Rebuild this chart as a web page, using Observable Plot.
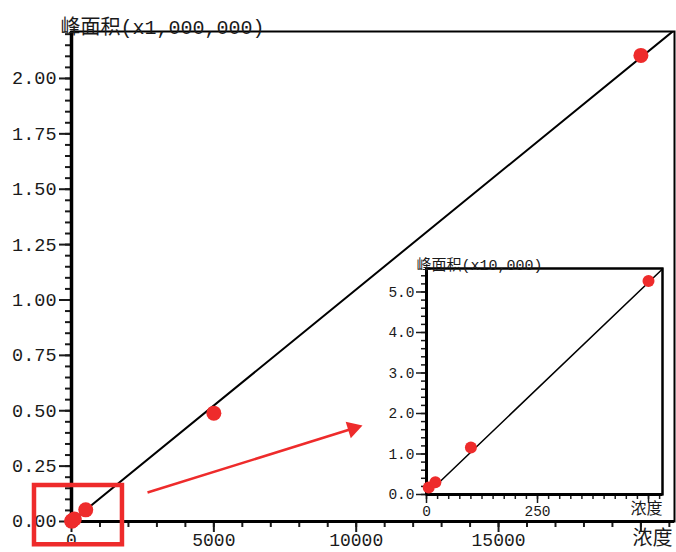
<!DOCTYPE html>
<html><head><meta charset="utf-8">
<script src="https://cdn.jsdelivr.net/npm/d3@7"></script>
<script src="https://cdn.jsdelivr.net/npm/@observablehq/plot@0.6"></script>
<style>
body{margin:0;background:#fff;}
#wrap{position:relative;width:676px;height:552px;overflow:hidden;background:#fff;}
#main{position:absolute;left:0;top:0;}
#inset{position:absolute;left:380px;top:245px;}
</style></head><body><div id="wrap"><div id="main"></div><div id="inset"></div></div>
<script>
// ---- data ----
const concentration = [5, 20, 100, 500, 5000, 20000];
const peakArea = [1700, 3000, 11600, 52700, 489000, 2104000];

// ---- tick labels ----
const mainXTicks = [0, 5000, 10000, 15000, 20000];
const mainXTickLabels = ["0", "5000", "10000", "15000", ""];
const mainYTicks = [0, 0.25, 0.5, 0.75, 1.0, 1.25, 1.5, 1.75, 2.0];
const mainYTickLabels = ["0.00", "0.25", "0.50", "0.75", "1.00", "1.25", "1.50", "1.75", "2.00"];
const insetXTicks = [0, 250, 500];
const insetXTickLabels = ["0", "250", ""];
const insetYTicks = [0, 1, 2, 3, 4, 5];
const insetYTickLabels = ["0.0", "1.0", "2.0", "3.0", "4.0", "5.0"];
const mainYLabel = ["峰面积(x1,000,000)"];
const insetYLabel = ["峰面积(x10,000)"];
const xLabel = ["浓度"];

// ---- annotations (data coordinates of main chart) ----
const zoomBox = [{x1: -1300, x2: 1790, y1: -0.105, y2: 0.1625}];
const pointer = [{x1: 2670, y1: 0.131, x2: 10222, y2: 0.433}];

// ---- layout ----
const MONO = "'Liberation Mono', 'Noto Sans CJK SC', monospace";
const CJK = "'Noto Sans CJK SC', sans-serif";
const RED = "#ee2b2b";
const W = 676, H = 552, ML = 71, MR = 2, MT = 31, MB = 31;
const mainXDomain = [0, 21180];
const mainYDomain = [0, 2.212];
const insetXDomain = [0, 531.5];
const insetYDomain = [0, 5.58];

// fit line through origin (least squares)
const fitSlope = d3.sum(concentration, (c, i) => c * peakArea[i]) / d3.sum(concentration, c => c * c);

const mainPts = concentration.map((c, i) => ({x: c, y: peakArea[i] / 1e6}));
const mainFit = mainXDomain.map(x => ({x, y: fitSlope * x / 1e6}));
const insetPts = concentration.map((c, i) => ({x: c, y: peakArea[i] / 1e4})).filter(d => d.x <= 500);
const insetFit = insetXDomain.map(x => ({x, y: fitSlope * x / 1e4}));

const mainXMinor = d3.range(0, 21001, 1000);
const mainYMinor = d3.range(0, 2.2001, 0.05);
const insetXMinor = d3.range(0, 526, 25);
const insetYMinor = d3.range(0, 5.41, 0.2);

// arrow head geometry (screen px per data unit)
const kx = (W - ML - MR) / (mainXDomain[1] - mainXDomain[0]);
const ky = (H - MT - MB) / (mainYDomain[1] - mainYDomain[0]);
const heads = pointer.map(p => {
  const dxp = (p.x2 - p.x1) * kx, dyp = -(p.y2 - p.y1) * ky;
  const len = Math.hypot(dxp, dyp), ux = dxp / len, uy = dyp / len;
  const back = 10;
  return {x: p.x2 - back * ux / kx, y: p.y2 + back * uy / ky,
          rotate: Math.atan2(dyp, dxp) * 180 / Math.PI + 90};
});
const shafts = pointer.map((p, i) => ({x1: p.x1, y1: p.y1, x2: heads[i].x, y2: heads[i].y}));

const mainPlot = Plot.plot({
  width: W, height: H, marginLeft: ML, marginRight: MR, marginTop: MT, marginBottom: MB,
  style: {fontFamily: MONO, fontSize: "18.5px", color: "#1a1a1a", background: "transparent", overflow: "visible"},
  x: {domain: mainXDomain, label: null},
  y: {domain: mainYDomain, label: null},
  marks: [
    Plot.frame({stroke: "black", strokeWidth: 2}),
    Plot.axisX({ticks: mainXMinor, tickSize: 6, tickFormat: () => "", strokeWidth: 2, label: null}),
    Plot.axisX({ticks: mainXTicks, tickSize: 11, tickPadding: 1, strokeWidth: 2, label: null, fontSize: 18,
      tickFormat: d => mainXTickLabels[mainXTicks.indexOf(d)]}),
    Plot.axisY({ticks: mainYMinor, tickSize: 6, tickFormat: () => "", strokeWidth: 2, label: null}),
    Plot.axisY({ticks: mainYTicks, tickSize: 12, tickPadding: 3, strokeWidth: 2, label: null,
      tickFormat: d => mainYTickLabels[mainYTicks.indexOf(d)]}),
    Plot.ruleX([0], {stroke: "black", strokeWidth: 3.5}),
    Plot.ruleY([0], {stroke: "black", strokeWidth: 3}),
    Plot.line(mainFit, {x: "x", y: "y", stroke: "black", strokeWidth: 2, clip: true}),
    Plot.dot(mainPts, {x: "x", y: "y", r: 7.5, fill: RED}),
    Plot.rect(zoomBox, {x1: "x1", x2: "x2", y1: "y1", y2: "y2", fill: "none", stroke: RED, strokeWidth: 4.5}),
    Plot.link(shafts, {x1: "x1", y1: "y1", x2: "x2", y2: "y2", stroke: RED, strokeWidth: 2.5}),
    Plot.dot(heads, {x: "x", y: "y", symbol: "triangle", r: 6.4, rotate: "rotate", fill: RED}),
    Plot.text(mainYLabel, {text: d => d, frameAnchor: "top-left", dx: -11, dy: 2, textAnchor: "start",
      lineAnchor: "bottom", fontSize: 20, fill: "#1a1a1a"}),
    Plot.text(xLabel, {text: d => d, frameAnchor: "bottom-right", dx: -22, dy: 9, textAnchor: "middle",
      lineAnchor: "top", fontSize: 20, fontFamily: CJK, fill: "#1a1a1a"})
  ]
});
document.getElementById("main").appendChild(mainPlot);

const IW = 296, IH = 279;
const insetPlot = Plot.plot({
  width: IW, height: IH, marginLeft: 46, marginRight: 14, marginTop: 23, marginBottom: 30,
  style: {fontFamily: MONO, fontSize: "14.5px", color: "#1a1a1a", background: "transparent", overflow: "visible"},
  x: {domain: insetXDomain, label: null},
  y: {domain: insetYDomain, label: null},
  marks: [
    Plot.frame({fill: "white", stroke: "black", strokeWidth: 2}),
    Plot.axisX({ticks: insetXMinor, tickSize: 5, tickFormat: () => "", strokeWidth: 1.5, label: null}),
    Plot.axisX({ticks: insetXTicks, tickSize: 9, tickPadding: 2, strokeWidth: 1.5, label: null,
      tickFormat: d => insetXTickLabels[insetXTicks.indexOf(d)]}),
    Plot.axisY({ticks: insetYMinor, tickSize: 5, tickFormat: () => "", strokeWidth: 1.5, label: null}),
    Plot.axisY({ticks: insetYTicks, tickSize: 10, tickPadding: 2, strokeWidth: 1.5, label: null,
      tickFormat: d => insetYTickLabels[insetYTicks.indexOf(d)]}),
    Plot.frame({stroke: "black", strokeWidth: 2}),
    Plot.ruleX([0], {stroke: "black", strokeWidth: 3}),
    Plot.ruleY([0], {stroke: "black", strokeWidth: 3}),
    Plot.line(insetFit, {x: "x", y: "y", stroke: "black", strokeWidth: 1.5, clip: true}),
    Plot.dot(insetPts, {x: "x", y: "y", r: 6, fill: RED}),
    Plot.text(insetYLabel, {text: d => d, frameAnchor: "top-left", dx: -10, dy: 1, textAnchor: "start",
      lineAnchor: "bottom", fontSize: 15, fill: "#1a1a1a"}),
    Plot.text(xLabel, {text: d => d, frameAnchor: "bottom-right", dx: -16, dy: 8, textAnchor: "middle",
      lineAnchor: "top", fontSize: 16, fontFamily: CJK, fill: "#1a1a1a"})
  ]
});
document.getElementById("inset").appendChild(insetPlot);
</script></body></html>
